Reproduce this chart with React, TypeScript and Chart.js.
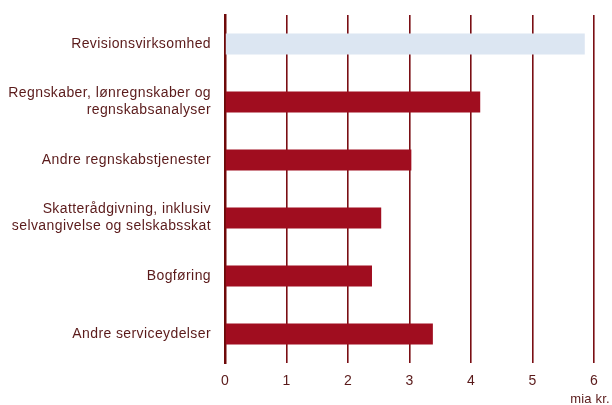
import React, { useEffect, useRef } from "react";
import { Chart, registerables } from "chart.js";

Chart.register(...registerables);

const categories: string[][] = [
  ["Revisionsvirksomhed"],
  ["Regnskaber, lønregnskaber og", "regnskabsanalyser"],
  ["Andre regnskabstjenester"],
  ["Skatterådgivning, inklusiv", "selvangivelse og selskabsskat"],
  ["Bogføring"],
  ["Andre serviceydelser"],
];
const values: number[] = [5.85, 4.15, 3.03, 2.54, 2.39, 3.38];
const barColors: string[] = ["#DCE6F2", "#A00D1F", "#A00D1F", "#A00D1F", "#A00D1F", "#A00D1F"];
const unitLabel = "mia kr.";

const textColor = "#5A1A1A";
const gridColor = "#7A0E14";
const fontFamily = "'Liberation Sans', Arial, sans-serif";

const spacingPlugin = {
  id: "letterSpacing",
  beforeLayout(chart: any) {
    chart.ctx.letterSpacing = "0.4px";
  },
  beforeDraw(chart: any) {
    chart.ctx.letterSpacing = "0.4px";
  },
};

const unitPlugin = {
  id: "unitLabel",
  afterDraw(chart: any) {
    const ctx = chart.ctx;
    const xs = chart.scales.x;
    ctx.save();
    ctx.letterSpacing = "0.2px";
    ctx.font = "13px " + fontFamily;
    ctx.fillStyle = textColor;
    ctx.textAlign = "center";
    ctx.textBaseline = "middle";
    ctx.fillText(unitLabel, xs.getPixelForValue(6) - 4, 399);
    ctx.restore();
  },
};

export default function App() {
  const ref = useRef<HTMLCanvasElement | null>(null);
  useEffect(() => {
    if (!ref.current) return;
    const chart = new Chart(ref.current, {
      type: "bar",
      data: {
        labels: categories,
        datasets: [
          {
            data: values,
            backgroundColor: barColors,
            borderWidth: 0,
            barPercentage: 0.72,
            categoryPercentage: 0.5,
          },
        ],
      },
      options: {
        indexAxis: "y",
        animation: false,
        responsive: false,
        maintainAspectRatio: false,
        layout: { padding: { top: 15, right: 18, left: 0, bottom: 0 } },
        plugins: { legend: { display: false }, tooltip: { enabled: false } },
        scales: {
          x: {
            min: 0,
            max: 6,
            ticks: {
              stepSize: 1,
              color: textColor,
              font: { family: fontFamily, size: 14 },
              padding: 10,
            },
            grid: {
              color: gridColor,
              lineWidth: 1.6,
              drawTicks: false,
            },
            border: { display: false },
            afterFit: (s: any) => {
              s.height = 42;
            },
          },
          y: {
            ticks: {
              color: textColor,
              font: { family: fontFamily, size: 14, lineHeight: 1.2 },
              padding: 14,
            },
            grid: { display: false, drawTicks: false },
            border: { display: true, color: "#6E0A0A", width: 2.5 },
            afterFit: (s: any) => {
              s.width = 225;
              s.paddingTop = 0;
              s.paddingBottom = 0;
            },
          },
        },
      },
      plugins: [spacingPlugin, unitPlugin],
    });
    return () => chart.destroy();
  }, []);
  return (
    <div style={{ position: "fixed", left: 0, top: 0, width: 612, height: 405, background: "#fff" }}>
      <canvas ref={ref} width={612} height={405} style={{ width: 612, height: 405 }} />
    </div>
  );
}
